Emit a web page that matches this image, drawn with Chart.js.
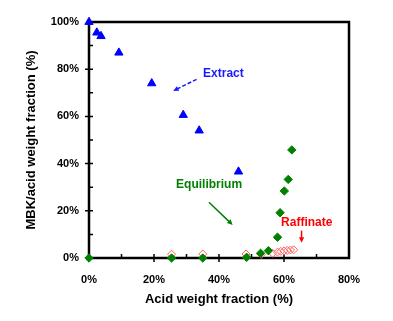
<!DOCTYPE html>
<html>
<head>
<meta charset="utf-8">
<script src="https://cdn.jsdelivr.net/npm/chart.js@4"></script>
<style>
  html,body{margin:0;padding:0;background:#fff;}
  #wrap{width:393px;height:321px;}
</style>
</head>
<body>
<div id="wrap"><canvas id="c" width="393" height="321"></canvas></div>
<script>
// Data (acid weight fraction %, MBK/acid weight fraction %)
const extractX = [0, 2.4, 3.7, 9.2, 19.3, 29.0, 33.9, 46.0];
const extractY = [100, 95.5, 94, 87, 74, 60.6, 54, 36.6];

const equilibriumX = [0, 25.4, 35.0, 48.5, 52.8, 55.2, 58.0, 58.8, 60.1, 61.3, 62.4];
const equilibriumY = [0, 0, 0, 0.3, 2.0, 3.1, 8.8, 19.2, 28.4, 33.3, 45.8];

const raffinateX = [25.4, 35.0, 48.3, 53.0, 56.5, 58.0, 59.0, 60.0, 61.0, 62.0, 63.0];
const raffinateY = [1.6, 1.7, 1.7, 1.5, 2.0, 2.5, 2.8, 3.0, 3.2, 3.4, 3.5];

const xTicks = [0, 20, 40, 60, 80];
const yTicks = [0, 20, 40, 60, 80, 100];

const xTitle = 'Acid weight fraction (%)';
const yTitle = 'MBK/acid weight fraction (%)';

// Annotations (data units)
const notes = [
  {text: 'Extract', x: 35.1, y: 78, color: '#1a1aff', arrow: [33.1, 75.7, 25.9, 70.8], dash: [4, 2]},
  {text: 'Equilibrium', x: 26.8, y: 30.9, color: '#008000', arrow: [36.9, 23.6, 44.2, 14.0], dash: []},
  {text: 'Raffinate', x: 59.1, y: 15.0, color: '#ff0000', arrow: [65.4, 11.6, 65.4, 6.5], dash: []}
];

const toPts = (xs, ys) => xs.map((x, i) => ({x: x, y: ys[i]}));

const framePlugin = {
  id: 'frame',
  beforeDatasetsDraw(chart) {
    const ctx = chart.ctx, a = chart.chartArea;
    const xs = chart.scales.x, ys = chart.scales.y;
    ctx.save();
    ctx.strokeStyle = '#000';
    ctx.lineWidth = 2.5;
    ctx.strokeRect(a.left, a.top, a.right - a.left, a.bottom - a.top);
    ctx.lineWidth = 1.5;
    ctx.beginPath();
    for (let v = 10; v < 80; v += 10) {
      const px = xs.getPixelForValue(v);
      const major = v % 20 === 0;
      ctx.moveTo(px, a.bottom - 4);
      ctx.lineTo(px, major ? a.bottom + 4 : a.bottom);
    }
    for (let v = 10; v < 100; v += 10) {
      const py = ys.getPixelForValue(v);
      const major = v % 20 === 0;
      ctx.moveTo(major ? a.left - 4 : a.left, py);
      ctx.lineTo(a.left + 4, py);
    }
    ctx.stroke();
    ctx.restore();
  },
  afterDatasetsDraw(chart) {
    const ctx = chart.ctx;
    const xs = chart.scales.x, ys = chart.scales.y;
    ctx.save();
    ctx.font = 'bold 12px "Liberation Sans", Arial, sans-serif';
    ctx.textBaseline = 'middle';
    ctx.textAlign = 'left';
    notes.forEach(n => {
      ctx.fillStyle = n.color;
      ctx.fillText(n.text, xs.getPixelForValue(n.x), ys.getPixelForValue(n.y));
      const x1 = xs.getPixelForValue(n.arrow[0]), y1 = ys.getPixelForValue(n.arrow[1]);
      const x2 = xs.getPixelForValue(n.arrow[2]), y2 = ys.getPixelForValue(n.arrow[3]);
      const ang = Math.atan2(y2 - y1, x2 - x1);
      const hl = 6;
      ctx.strokeStyle = n.color;
      ctx.lineWidth = 1.5;
      ctx.setLineDash(n.dash);
      ctx.beginPath();
      ctx.moveTo(x1, y1);
      ctx.lineTo(x2 - Math.cos(ang) * hl * 0.8, y2 - Math.sin(ang) * hl * 0.8);
      ctx.stroke();
      ctx.setLineDash([]);
      ctx.beginPath();
      ctx.moveTo(x2, y2);
      ctx.lineTo(x2 - hl * Math.cos(ang - 0.45), y2 - hl * Math.sin(ang - 0.45));
      ctx.lineTo(x2 - hl * Math.cos(ang + 0.45), y2 - hl * Math.sin(ang + 0.45));
      ctx.closePath();
      ctx.fillStyle = n.color;
      ctx.fill();
    });
    ctx.restore();
  }
};

const tickFont = {family: '"Liberation Sans", Arial, sans-serif', size: 11, weight: 'bold'};
const titleFont = {family: '"Liberation Sans", Arial, sans-serif', size: 13, weight: 'bold'};

new Chart(document.getElementById('c'), {
  type: 'scatter',
  data: {
    datasets: [
      {label: 'Extract', data: toPts(extractX, extractY), pointStyle: 'triangle', pointRadius: 4.8,
       backgroundColor: '#0000ff', borderColor: '#0000ff', borderWidth: 1, clip: false},
      {label: 'Equilibrium', data: toPts(equilibriumX, equilibriumY), pointStyle: 'rectRot', pointRadius: 4.2,
       backgroundColor: '#008000', borderColor: '#008000', borderWidth: 1, clip: false},
      {label: 'Raffinate', data: toPts(raffinateX, raffinateY), pointStyle: 'rectRot', pointRadius: 4,
       backgroundColor: 'rgba(255,255,255,0)', borderColor: '#ff6060', borderWidth: 1, clip: false}
    ]
  },
  options: {
    responsive: false,
    animation: false,
    layout: {padding: {left: 0, top: 22, right: 44, bottom: 0}},
    plugins: {legend: {display: false}, tooltip: {enabled: false}},
    scales: {
      x: {
        type: 'linear', min: 0, max: 80,
        afterBuildTicks: s => { s.ticks = xTicks.map(v => ({value: v})); },
        afterFit: s => { s.height = 63; },
        grid: {display: false, drawTicks: false}, border: {display: false},
        ticks: {padding: 15, color: '#000', font: tickFont, callback: v => v + '%', maxRotation: 0},
        title: {display: true, text: xTitle, color: '#000', font: titleFont, padding: {top: 0, bottom: 14}}
      },
      y: {
        type: 'linear', min: 0, max: 100,
        afterBuildTicks: s => { s.ticks = yTicks.map(v => ({value: v})); },
        afterFit: s => { s.width = 89; },
        grid: {display: false, drawTicks: false}, border: {display: false},
        ticks: {padding: 10, color: '#000', font: tickFont, callback: v => v + '%'},
        title: {display: true, text: yTitle, color: '#000', font: titleFont, padding: {top: 24, bottom: 0}}
      }
    }
  },
  plugins: [framePlugin]
});
</script>
</body>
</html>
